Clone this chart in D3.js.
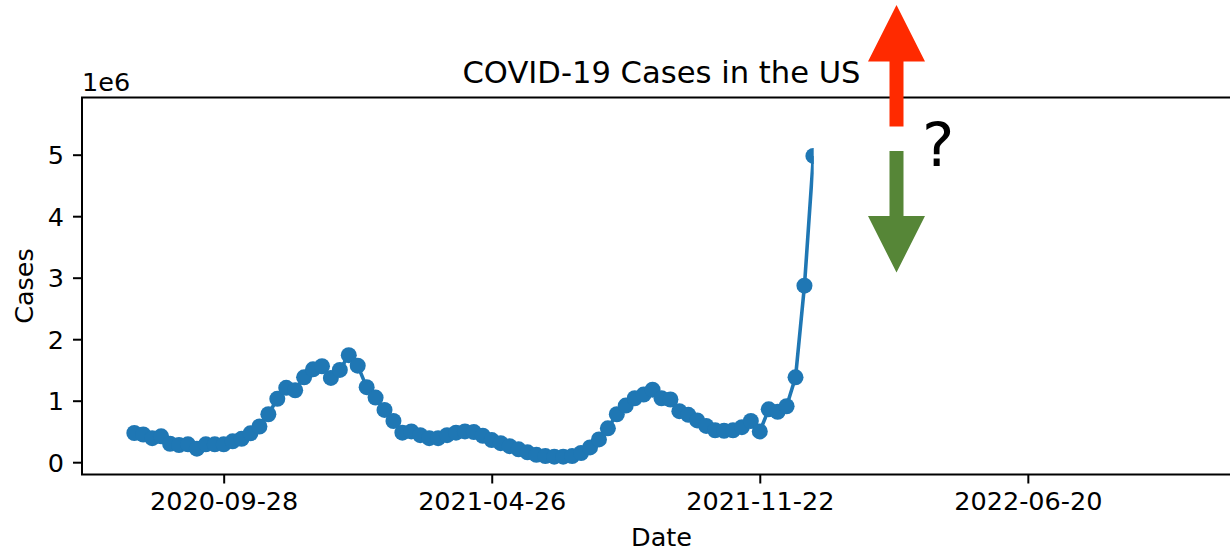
<!DOCTYPE html>
<html>
<head>
<meta charset="utf-8">
<script src="https://cdn.jsdelivr.net/npm/d3@7"></script>
<style>
  html, body { margin: 0; padding: 0; background: #fff; }
  svg { display: block; }
  text { font-family: "DejaVu Sans", sans-serif; fill: #000; }
</style>
</head>
<body>
<svg id="chart" width="1230" height="552"></svg>
<script>
// Weekly US COVID-19 case counts (week starting Monday), in millions
const weeks = [
  "2020-07-20","2020-07-27","2020-08-03","2020-08-10","2020-08-17","2020-08-24","2020-08-31",
  "2020-09-07","2020-09-14","2020-09-21","2020-09-28","2020-10-05","2020-10-12","2020-10-19",
  "2020-10-26","2020-11-02","2020-11-09","2020-11-16","2020-11-23","2020-11-30","2020-12-07",
  "2020-12-14","2020-12-21","2020-12-28","2021-01-04","2021-01-11","2021-01-18","2021-01-25",
  "2021-02-01","2021-02-08","2021-02-15","2021-02-22","2021-03-01","2021-03-08","2021-03-15",
  "2021-03-22","2021-03-29","2021-04-05","2021-04-12","2021-04-19","2021-04-26","2021-05-03",
  "2021-05-10","2021-05-17","2021-05-24","2021-05-31","2021-06-07","2021-06-14","2021-06-21",
  "2021-06-28","2021-07-05","2021-07-12","2021-07-19","2021-07-26","2021-08-02","2021-08-09",
  "2021-08-16","2021-08-23","2021-08-30","2021-09-06","2021-09-13","2021-09-20","2021-09-27",
  "2021-10-04","2021-10-11","2021-10-18","2021-10-25","2021-11-01","2021-11-08","2021-11-15",
  "2021-11-22","2021-11-29","2021-12-06","2021-12-13","2021-12-20","2021-12-27","2022-01-03"
];
const casesMillions = [
  0.475, 0.45, 0.39, 0.42, 0.30, 0.28, 0.29,
  0.22, 0.29, 0.29, 0.29, 0.34, 0.38, 0.47,
  0.58, 0.78, 1.03, 1.21, 1.17, 1.38, 1.51,
  1.56, 1.37, 1.50, 1.74, 1.57, 1.22, 1.05,
  0.85, 0.67, 0.48, 0.50, 0.44, 0.39, 0.39,
  0.44, 0.48, 0.50, 0.49, 0.43, 0.36, 0.31,
  0.26, 0.21, 0.16, 0.12, 0.10, 0.09, 0.09,
  0.10, 0.15, 0.24, 0.37, 0.55, 0.78, 0.92,
  1.04, 1.10, 1.18, 1.04, 1.02, 0.83, 0.77,
  0.68, 0.59, 0.52, 0.51, 0.52, 0.57, 0.67,
  0.50, 0.86, 0.82, 0.91, 1.38, 2.87, 4.98
];
const xTickDates = ["2020-09-28", "2021-04-26", "2021-11-22", "2022-06-20"];
const yTicks = [0, 1, 2, 3, 4, 5];
const xExtent = ["2020-06-09", "2022-12-04"];
const yExtent = [-0.2, 5.93];

const parse = d3.utcParse("%Y-%m-%d");
const fmt = d3.utcFormat("%Y-%m-%d");
const data = weeks.map((w, i) => ({ date: parse(w), value: casesMillions[i] }));

const svg = d3.select("#chart");
const plotLeft = 82, plotRight = 1241, plotTop = 97.5, plotBottom = 474.5;

const x = d3.scaleUtc().domain(xExtent.map(parse)).range([plotLeft, plotRight]);
const y = d3.scaleLinear().domain(yExtent).range([plotBottom, plotTop]);

// Plotted series is cut off right at the final week
const lastX = x(data[data.length - 1].date);
svg.append("defs").append("clipPath").attr("id", "plotClip")
  .append("rect")
  .attr("x", plotLeft).attr("y", plotTop)
  .attr("width", lastX + 0.3 - plotLeft).attr("height", plotBottom - plotTop);

const plot = svg.append("g").attr("clip-path", "url(#plotClip)");
const blue = "#1f77b4";

plot.append("path")
  .datum(data)
  .attr("fill", "none")
  .attr("stroke", blue)
  .attr("stroke-width", 3.6)
  .attr("stroke-linejoin", "round")
  .attr("d", d3.line().x(d => x(d.date)).y(d => y(d.value)));

plot.selectAll("circle")
  .data(data)
  .join("circle")
  .attr("cx", d => x(d.date))
  .attr("cy", d => y(d.value))
  .attr("r", 8)
  .attr("fill", blue);

// Axes
const xAxis = d3.axisBottom(x)
  .tickValues(xTickDates.map(parse))
  .tickFormat(fmt)
  .tickSize(9).tickPadding(8);
const yAxis = d3.axisLeft(y)
  .tickValues(yTicks)
  .tickFormat(d3.format("d"))
  .tickSize(9).tickPadding(9);

const gx = svg.append("g").attr("transform", `translate(0,${plotBottom})`).call(xAxis);
const gy = svg.append("g").attr("transform", `translate(${plotLeft},0)`).call(yAxis);
[gx, gy].forEach(g => {
  g.select(".domain").remove();
  g.selectAll(".tick line").attr("stroke", "#000").attr("stroke-width", 2);
  g.selectAll(".tick text").style("font-size", "25.5px").attr("fill", "#000");
});
gy.selectAll(".tick text").attr("dy", "0.36em");

// Frame
svg.append("rect")
  .attr("x", plotLeft).attr("y", plotTop)
  .attr("width", plotRight - plotLeft).attr("height", plotBottom - plotTop)
  .attr("fill", "none").attr("stroke", "#000").attr("stroke-width", 2);

// Labels
svg.append("text")
  .attr("x", (plotLeft + plotRight) / 2).attr("y", 83)
  .attr("text-anchor", "middle")
  .style("font-size", "30.6px")
  .text("COVID-19 Cases in the US");

svg.append("text")
  .attr("x", plotLeft).attr("y", 90.5)
  .style("font-size", "25.5px")
  .text("1e6");

svg.append("text")
  .attr("x", (plotLeft + plotRight) / 2).attr("y", 546)
  .attr("text-anchor", "middle")
  .style("font-size", "25.5px")
  .text("Date");

svg.append("text")
  .attr("transform", `translate(33,${(plotTop + plotBottom) / 2}) rotate(-90)`)
  .attr("text-anchor", "middle")
  .style("font-size", "25.5px")
  .text("Cases");

// Up / down arrows with a question mark
svg.append("path")
  .attr("fill", "#ff2a00")
  .attr("d", "M896.5,5 L925,61.5 L903.5,61.5 L903.5,126.5 L889.5,126.5 L889.5,61.5 L868,61.5 Z");
svg.append("path")
  .attr("fill", "#568637")
  .attr("d", "M889.5,151 L903.5,151 L903.5,216 L925,216 L896.5,272.5 L868,216 L889.5,216 Z");
svg.append("text")
  .attr("x", 922).attr("y", 165.5)
  .style("font-size", "61px")
  .text("?");
</script>
</body>
</html>
